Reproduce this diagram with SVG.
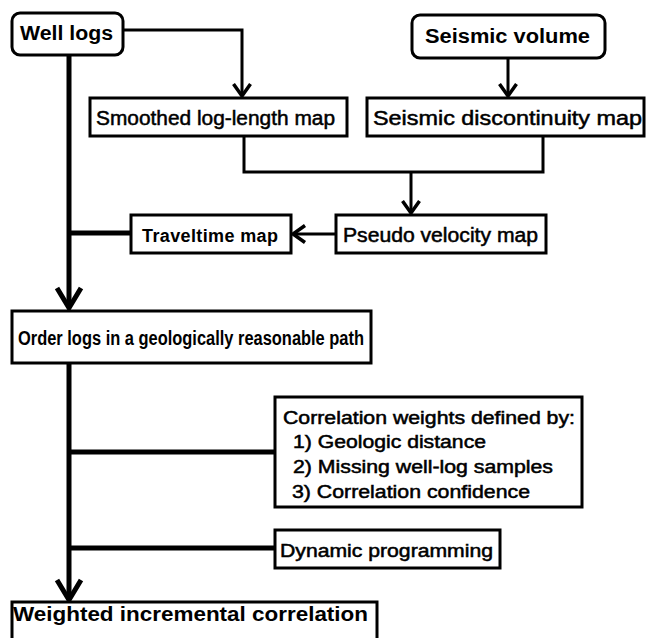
<svg xmlns="http://www.w3.org/2000/svg" width="647" height="638" viewBox="0 0 647 638">
<style>
.box{fill:#fff;stroke:#000;stroke-width:3}
.c{fill:none;stroke:#000;stroke-width:3;stroke-linejoin:miter}
.main{fill:none;stroke:#000;stroke-width:5}
.ah{fill:none;stroke:#000;stroke-width:3.5;stroke-linecap:butt}
.ahm{fill:none;stroke:#000;stroke-width:5;stroke-linecap:butt}
text{font-family:"Liberation Sans",Arial,sans-serif;fill:#000}
.b{font-weight:bold}
.m{font-weight:normal;stroke:#000;stroke-width:0.5}
</style>
<rect width="647" height="638" fill="#fff"/>
<g id="connectors">
<polyline class="c" points="123,30 242,30 242,96"/>
<polyline class="ah" points="233.5,84 242,96 250.5,84"/>
<line class="c" x1="508" y1="58" x2="508" y2="96"/>
<polyline class="ah" points="499.5,84 508,96 516.5,84"/>
<polyline class="c" points="244,136 244,172 543,172 543,136"/>
<line class="c" x1="411" y1="172" x2="411" y2="213"/>
<polyline class="ah" points="402.5,201 411,213 419.5,201"/>
<line class="c" x1="336" y1="234" x2="293" y2="234"/>
<polyline class="ah" points="305,225.5 293,234 305,242.5"/>
<line class="main" x1="69" y1="233" x2="131" y2="233"/>
<line class="main" x1="69" y1="55" x2="69" y2="308"/>
<polyline class="ahm" points="57,288 69,308 81,288"/>
<line class="main" x1="69" y1="363" x2="69" y2="600"/>
<polyline class="ahm" points="57,580 69,600 81,580"/>
<line class="main" x1="69" y1="452" x2="275" y2="452"/>
<line class="main" x1="69" y1="548" x2="275" y2="548"/>
</g>
<g id="well-logs">
<rect class="box" x="12" y="13" width="111" height="42" rx="8"/>
<text class="b" x="20" y="40" font-size="20" textLength="93" lengthAdjust="spacingAndGlyphs">Well logs</text>
</g>
<g id="seismic-volume">
<rect class="box" x="412" y="15" width="193" height="43" rx="8"/>
<text class="b" x="425" y="43" font-size="20" textLength="165" lengthAdjust="spacingAndGlyphs">Seismic volume</text>
</g>
<g id="smoothed-log-length-map">
<rect class="box" x="90" y="98" width="257" height="38"/>
<text class="m" x="96" y="125" font-size="20" textLength="239" lengthAdjust="spacingAndGlyphs">Smoothed log-length map</text>
</g>
<g id="seismic-discontinuity-map">
<rect class="box" x="367" y="98" width="277" height="38"/>
<text class="m" x="373" y="125" font-size="20" textLength="269" lengthAdjust="spacingAndGlyphs">Seismic discontinuity map</text>
</g>
<g id="traveltime-map">
<rect class="box" x="131" y="215" width="160" height="38"/>
<text class="b" x="142" y="242" font-size="18" textLength="136" lengthAdjust="spacing">Traveltime map</text>
</g>
<g id="pseudo-velocity-map">
<rect class="box" x="336" y="215" width="210" height="38"/>
<text class="m" x="343" y="242" font-size="19.5" textLength="195" lengthAdjust="spacingAndGlyphs">Pseudo velocity map</text>
</g>
<g id="order-logs">
<rect class="box" x="12" y="311" width="359" height="52"/>
<text class="b" x="18" y="345" font-size="19.5" textLength="346" lengthAdjust="spacingAndGlyphs">Order logs in a geologically reasonable path</text>
</g>
<g id="correlation-weights">
<rect class="box" x="275" y="397" width="307" height="110"/>
<text class="m" x="283" y="424" font-size="17.5" textLength="292" lengthAdjust="spacingAndGlyphs">Correlation weights defined by:</text>
<text class="m" x="293" y="448" font-size="17.5" textLength="193" lengthAdjust="spacingAndGlyphs">1) Geologic distance</text>
<text class="m" x="293" y="473" font-size="17.5" textLength="260" lengthAdjust="spacingAndGlyphs">2) Missing well-log samples</text>
<text class="m" x="292" y="498" font-size="17.5" textLength="238" lengthAdjust="spacingAndGlyphs">3) Correlation confidence</text>
</g>
<g id="dynamic-programming">
<rect class="box" x="275" y="530" width="225" height="38"/>
<text class="m" x="280" y="557" font-size="17.5" textLength="213" lengthAdjust="spacingAndGlyphs">Dynamic programming</text>
</g>
<g id="weighted-incremental-correlation">
<rect class="box" x="12" y="602" width="365" height="50"/>
<text class="b" x="13" y="621" font-size="20" textLength="355" lengthAdjust="spacingAndGlyphs">Weighted incremental correlation</text>
</g>
</svg>
